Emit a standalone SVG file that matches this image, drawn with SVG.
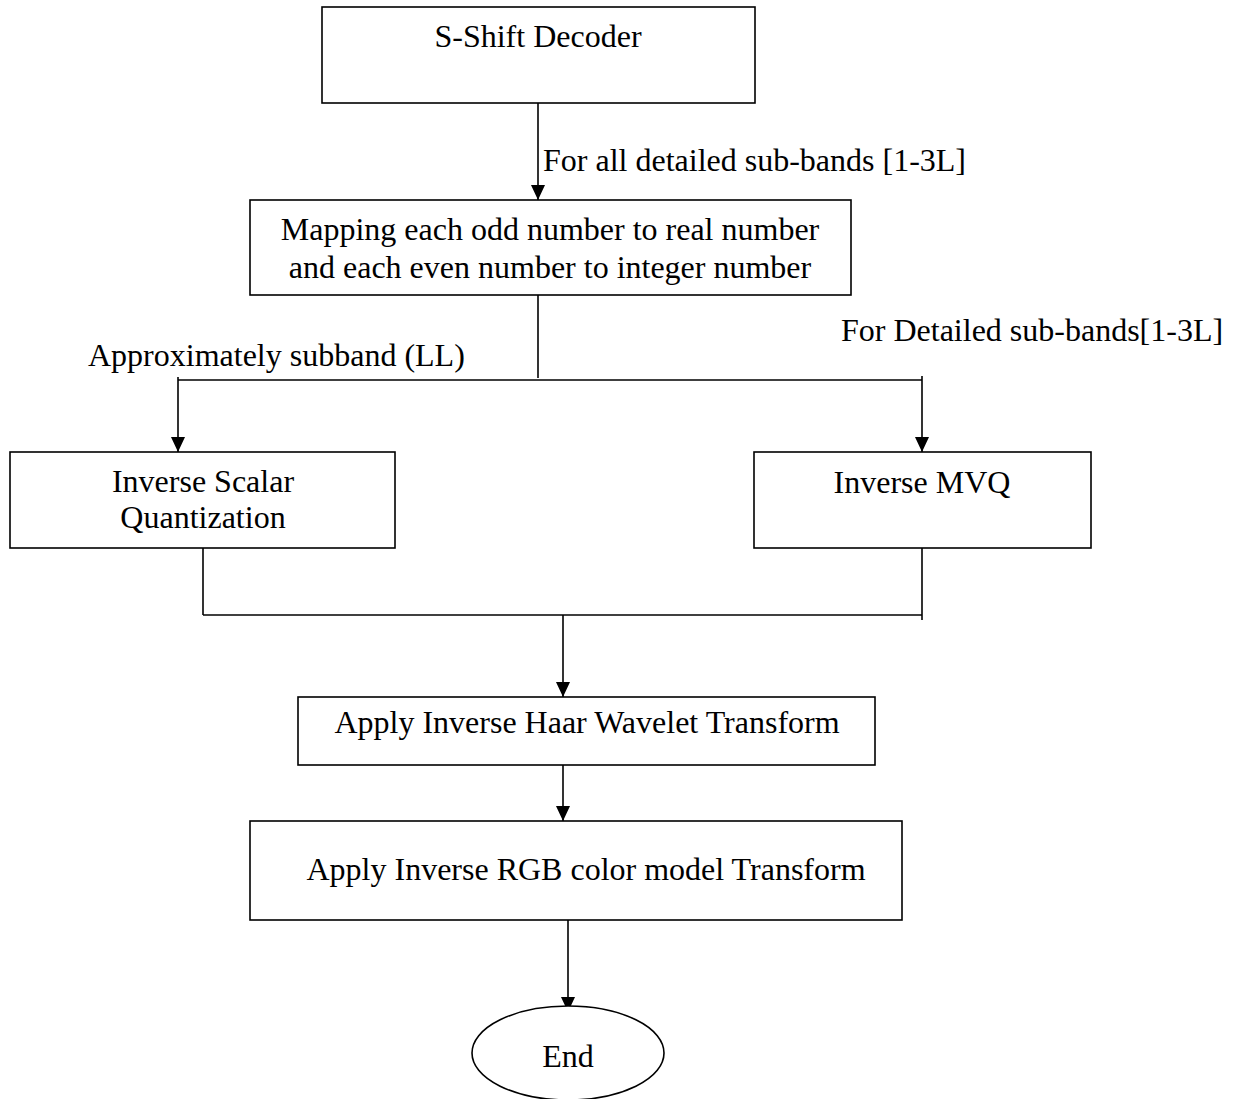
<svg xmlns="http://www.w3.org/2000/svg" width="1238" height="1099" viewBox="0 0 1238 1099">
  <style>
    .box { fill: #ffffff; stroke: #000000; stroke-width: 1.6; }
    .wire { fill: none; stroke: #000000; stroke-width: 1.6; }
    text { font-family: "Liberation Serif", "Times New Roman", serif; font-size: 32px; fill: #000000; }
    .c { text-anchor: middle; }
  </style>
  <defs>
    <marker id="arrow" markerUnits="userSpaceOnUse" markerWidth="16" markerHeight="16" refX="15" refY="7" orient="auto">
      <path d="M0,0 L15,7 L0,14 Z" fill="#000000"/>
    </marker>
  </defs>

  <rect width="1238" height="1099" fill="#ffffff"/>

  <!-- connectors -->
  <g id="connectors">
    <line class="wire" x1="538" y1="103" x2="538" y2="200" marker-end="url(#arrow)"/>
    <line class="wire" x1="538" y1="295" x2="538" y2="378"/>
    <line class="wire" x1="178" y1="380" x2="922" y2="380"/>
    <line class="wire" x1="178" y1="377" x2="178" y2="452" marker-end="url(#arrow)"/>
    <line class="wire" x1="922" y1="376" x2="922" y2="452" marker-end="url(#arrow)"/>
    <line class="wire" x1="203" y1="548" x2="203" y2="615"/>
    <line class="wire" x1="203" y1="615" x2="922" y2="615"/>
    <line class="wire" x1="922" y1="548" x2="922" y2="620"/>
    <line class="wire" x1="563" y1="615" x2="563" y2="697" marker-end="url(#arrow)"/>
    <line class="wire" x1="563" y1="765" x2="563" y2="821" marker-end="url(#arrow)"/>
    <line class="wire" x1="568" y1="920" x2="568" y2="1012" marker-end="url(#arrow)"/>
    <text x="543" y="171">For all detailed sub-bands [1-3L]</text>
    <text x="88" y="366">Approximately subband (LL)</text>
    <text x="841" y="341">For Detailed sub-bands[1-3L]</text>
  </g>

  <!-- nodes -->
  <g id="s-shift-decoder">
    <rect class="box" x="322" y="7" width="433" height="96"/>
    <text class="c" x="538" y="47">S-Shift Decoder</text>
  </g>

  <g id="mapping">
    <rect class="box" x="250" y="200" width="601" height="95"/>
    <text class="c" x="550" y="240">Mapping each odd number to real number</text>
    <text class="c" x="550" y="278">and each even number to integer number</text>
  </g>

  <g id="inverse-scalar-quantization">
    <rect class="box" x="10" y="452" width="385" height="96"/>
    <text class="c" x="203" y="492">Inverse Scalar</text>
    <text class="c" x="203" y="528">Quantization</text>
  </g>

  <g id="inverse-mvq">
    <rect class="box" x="754" y="452" width="337" height="96"/>
    <text class="c" x="922" y="493">Inverse MVQ</text>
  </g>

  <g id="inverse-haar">
    <rect class="box" x="298" y="697" width="577" height="68"/>
    <text class="c" x="587" y="733">Apply Inverse Haar Wavelet Transform</text>
  </g>

  <g id="inverse-rgb">
    <rect class="box" x="250" y="821" width="652" height="99"/>
    <text class="c" x="586" y="880">Apply Inverse RGB color model Transform</text>
  </g>

  <g id="end">
    <ellipse class="box" cx="568" cy="1053" rx="96" ry="47"/>
    <text class="c" x="568" y="1067">End</text>
  </g>
</svg>
